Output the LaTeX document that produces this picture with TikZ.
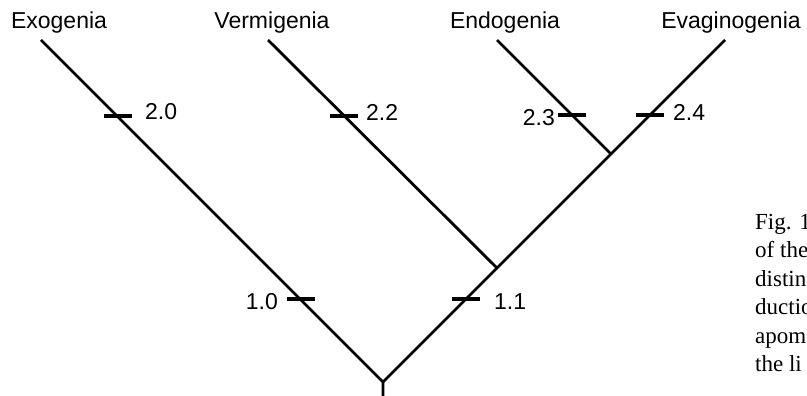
\documentclass[tikz,border=0pt]{standalone}
\usepackage{fontspec}
\setmainfont{Liberation Sans}
\newfontfamily\capfont{Liberation Serif}
\begin{document}
\begin{tikzpicture}[x=1pt,y=-1pt,
  branch/.style={line width=2.8pt},
  tickmark/.style={fill=black, draw=none, minimum width=28pt, minimum height=3.4pt, inner sep=0pt, outer sep=0pt},
  taxon/.style={font=\fontsize{23}{28}\selectfont, anchor=base, inner sep=0pt},
  charlab/.style={font=\fontsize{23}{28}\selectfont, inner sep=0pt},
  capline/.style={font=\capfont\fontsize{23}{28}\selectfont, anchor=base west, inner sep=0pt}]
\clip (0,0) rectangle (807,396);
\fill[white] (0,0) rectangle (807,396);
% tree
\coordinate (base) at (383,400);
\coordinate (root) at (383,382);
\coordinate (n11) at (497,268);
\coordinate (n2) at (611,154);
\coordinate (tA) at (41,40);
\coordinate (tB) at (268,40);
\coordinate (tC) at (497,40);
\coordinate (tD) at (725,40);
\draw[branch] (base) -- (root) -- (tA);
\draw[branch] (root) -- (n11) -- (n2) -- (tD);
\draw[branch] (n11) -- (tB);
\draw[branch] (n2) -- (tC);
% taxa
\node[taxon] (exo) at (59,28.5) {Exogenia};
\node[taxon] (ver) at (272,28.5) {Vermigenia};
\node[taxon] (endo) at (505,28.5) {Endogenia};
\node[taxon] (evag) at (731,28.5) {Evaginogenia};
% character ticks
\node[tickmark] (k20) at (117.5,116) {};
\node[tickmark] (k22) at (344,116) {};
\node[tickmark] (k23) at (572,115) {};
\node[tickmark] (k24) at (650,115) {};
\node[tickmark] (k10) at (301,299) {};
\node[tickmark] (k11) at (466,299) {};
\node[charlab, anchor=base west] (l20) at (145,120) {2.0};
\node[charlab, anchor=base west] (l22) at (366,121) {2.2};
\node[charlab, anchor=base east] (l23) at (555,125) {2.3};
\node[charlab, anchor=base west] (l24) at (673,121) {2.4};
\node[charlab, anchor=base east] (l10) at (278,309) {1.0};
\node[charlab, anchor=base west] (l11) at (494,309) {1.1};
% caption (cut off at right edge)
\node[capline] (c1) at (755,229) {Fig. 1};
\node[capline] (c2) at (755,257.5) {of the};
\node[capline] (c3) at (755,286) {distin};
\node[capline] (c4) at (755,314.5) {ductio};
\node[capline] (c5) at (755,343) {apom};
\node[capline] (c6) at (755,371.5) {the li};
\end{tikzpicture}
\end{document}
